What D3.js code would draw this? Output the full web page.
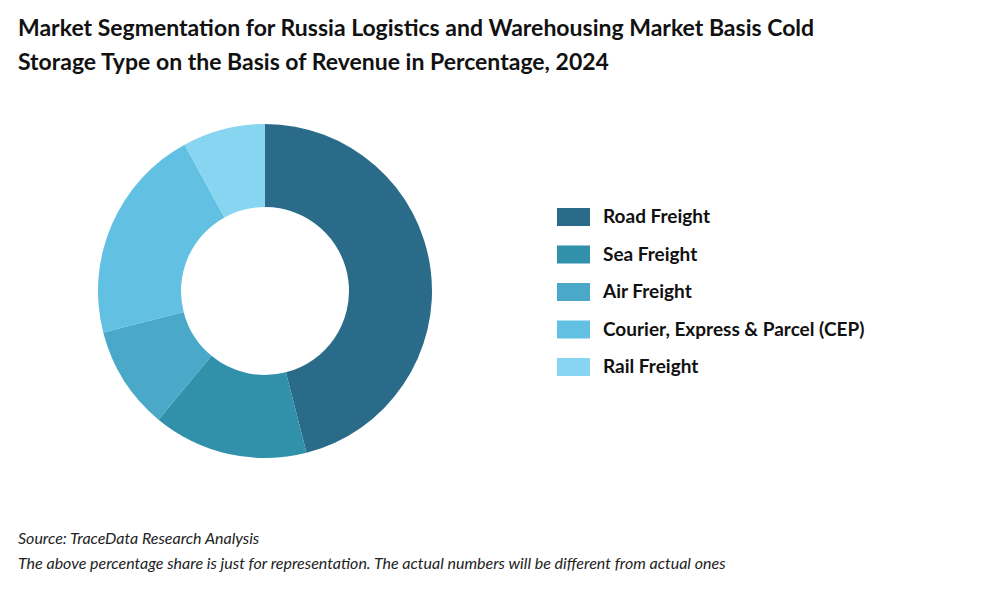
<!DOCTYPE html>
<html><head><meta charset="utf-8">
<script src="https://cdn.jsdelivr.net/npm/d3@7"></script>
<style>body{margin:0;background:#fff;}svg{display:block;}</style>
</head><body>
<svg id="c" width="1000" height="600"></svg>
<script>
const categories = ["Road Freight","Sea Freight","Air Freight","Courier, Express & Parcel (CEP)","Rail Freight"];
const values = [46, 15, 10, 21, 8];
const colors = ["#2a6b8a","#3190aa","#4aa8c8","#62c0e3","#87d5f0"];
const titleLines = ["Market Segmentation for Russia Logistics and Warehousing Market Basis Cold","Storage Type on the Basis of Revenue in Percentage, 2024"];
const notes = ["Source: TraceData Research Analysis","The above percentage share is just for representation. The actual numbers will be different from actual ones"];

const svg = d3.select("#c");
const font = "Lato, 'Open Sans', sans-serif";
svg.selectAll("text.t").data(titleLines).join("text").attr("class","t")
  .attr("x",18).attr("y",(d,i)=>36+i*34).attr("font-family",font)
  .attr("font-weight","bold").attr("font-size",23).attr("fill","#111").text(d=>d);

const pie = d3.pie().sort(null).value(d=>d)(values);
const arc = d3.arc().innerRadius(84).outerRadius(167);
const g = svg.append("g").attr("transform","translate(265,291)");
g.selectAll("path").data(pie).join("path").attr("d",arc).attr("fill",(d,i)=>colors[i]);

const lg = svg.append("g");
categories.forEach((c,i)=>{
  const y = 208 + i*37.5;
  lg.append("rect").attr("x",557).attr("y",y).attr("width",33).attr("height",18).attr("fill",colors[i]);
  lg.append("text").attr("x",603).attr("y",y+15).attr("font-family",font).attr("font-weight","bold")
    .attr("font-size",19).attr("fill","#111").text(c);
});
svg.selectAll("text.n").data(notes).join("text").attr("class","n")
  .attr("x",18).attr("y",(d,i)=>544+i*25).attr("font-family",font).attr("font-style","italic")
  .attr("font-size",16).attr("fill","#222").text(d=>d);
</script>
</body></html>
